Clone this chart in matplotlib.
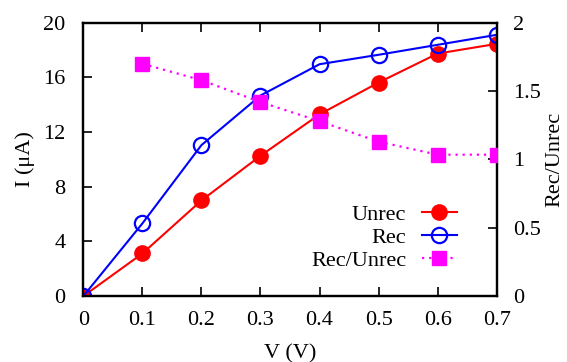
import matplotlib
matplotlib.use("Agg")
import matplotlib.pyplot as plt

plt.rcParams["font.family"] = ["Liberation Serif", "DejaVu Serif"]
plt.rcParams["font.size"] = 16

voltage = [0.0, 0.1, 0.2, 0.3, 0.4, 0.5, 0.6, 0.7]
i_unrec = [0.0, 3.12, 7.0, 10.27, 13.3, 15.63, 17.75, 18.46]
i_rec = [0.0, 5.32, 11.05, 14.68, 16.97, 17.66, 18.39, 19.12]
ratio_v = [0.1, 0.2, 0.3, 0.4, 0.5, 0.6, 0.7]
ratio = [1.70, 1.58, 1.42, 1.28, 1.13, 1.035, 1.035]

fig = plt.figure(figsize=(5.67, 3.62), dpi=100)
ax = fig.add_axes([0.147, 0.182, 0.729, 0.755])
ax2 = ax.twinx()

l1, = ax.plot(voltage, i_unrec, color="red", lw=1.5, marker="o", ms=11,
              mfc="red", mec="red", label="Unrec", zorder=3)
l2, = ax.plot(voltage, i_rec, color="blue", lw=1.5, marker="o", ms=11,
              mfc="none", mec="blue", mew=1.6, label="Rec", zorder=4)
l3, = ax2.plot(ratio_v, ratio, color="magenta", lw=1.6, ls=(0, (1, 2.2)),
               marker="s", ms=10.5, mfc="magenta", mec="magenta",
               label="Rec/Unrec", zorder=5)

ax.set_xlim(0, 0.7)
ax.set_ylim(0, 20)
ax2.set_ylim(0, 2)
ax.set_xticks([0, 0.1, 0.2, 0.3, 0.4, 0.5, 0.6, 0.7])
ax.set_xticklabels(["0", "0.1", "0.2", "0.3", "0.4", "0.5", "0.6", "0.7"])
ax.set_yticks([0, 4, 8, 12, 16, 20])
ax2.set_yticks([0, 0.5, 1, 1.5, 2])
ax2.set_yticklabels(["0", "0.5", "1", "1.5", "2"])

ax.tick_params(axis="x", direction="in", top=True, length=6.5, width=1.2, pad=11)
ax.tick_params(axis="y", direction="in", length=6.5, width=1.2, pad=13)
ax2.tick_params(axis="y", direction="in", length=6.5, width=1.2, pad=12)
for a in (ax, ax2):
    for s in a.spines.values():
        s.set_linewidth(1.6)

ax.set_xlabel("V (V)", labelpad=10)
ax.set_ylabel("I (μA)", labelpad=6)
ax2.set_ylabel("Rec/Unrec", labelpad=3)

ax2.legend([l1, l2, l3], ["Unrec", "Rec", "Rec/Unrec"], loc="lower right",
           bbox_to_anchor=(0.926, 0.06), frameon=False, markerfirst=False,
           handlelength=1.6, labelspacing=0.1, handletextpad=0.7,
           borderaxespad=0)

fig.savefig("out.png", dpi=100)
